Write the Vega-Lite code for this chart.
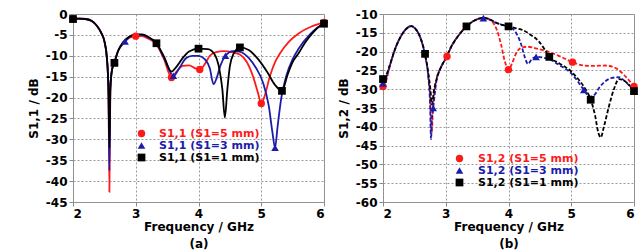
{
  "$schema": "https://vega.github.io/schema/vega-lite/v6.json",
  "padding": {"left": 26, "top": 7, "right": 4, "bottom": 0},
  "spacing": 7,
  "config": {
    "font": "DejaVu Sans",
    "view": {"stroke": "#8a8a8a", "strokeWidth": 1},
    "axis": {
      "labelFont": "DejaVu Sans", "labelFontWeight": "bold", "labelFontSize": 12, "labelColor": "#000",
      "titleFont": "DejaVu Sans", "titleFontWeight": "bold", "titleFontSize": 12, "titleColor": "#000",
      "gridColor": "#999", "gridDash": [2, 2], "gridWidth": 1, "domain": false,
      "tickColor": "#8a8a8a", "tickSize": 4, "labelPadding": 2
    },
    "legend": {"labelFont": "DejaVu Sans", "labelFontWeight": "bold", "labelFontSize": 11}
  },
  "datasets": {
    "a": [
      {"f":2.0,"v":-1.2,"s":"5 mm","m":1},{"f":2.1,"v":-1.1,"s":"5 mm"},{"f":2.2,"v":-1.2,"s":"5 mm"},{"f":2.3,"v":-1.7,"s":"5 mm"},{"f":2.38,"v":-2.8,"s":"5 mm"},{"f":2.45,"v":-4.5,"s":"5 mm"},{"f":2.5,"v":-6.5,"s":"5 mm"},{"f":2.54,"v":-10.5,"s":"5 mm"},{"f":2.565,"v":-18,"s":"5 mm"},{"f":2.58,"v":-42.6,"s":"5 mm"},{"f":2.595,"v":-18,"s":"5 mm"},{"f":2.62,"v":-13.5,"s":"5 mm"},{"f":2.66,"v":-11.5,"s":"5 mm"},{"f":2.72,"v":-8.8,"s":"5 mm"},{"f":2.8,"v":-6.9,"s":"5 mm"},{"f":2.9,"v":-5.7,"s":"5 mm"},{"f":3.0,"v":-5.3,"s":"5 mm","m":1},{"f":3.1,"v":-5.3,"s":"5 mm"},{"f":3.2,"v":-5.9,"s":"5 mm"},{"f":3.33,"v":-7.3,"s":"5 mm"},{"f":3.45,"v":-10.8,"s":"5 mm"},{"f":3.57,"v":-15.2,"s":"5 mm","m":1},{"f":3.65,"v":-13.8,"s":"5 mm"},{"f":3.75,"v":-12.4,"s":"5 mm"},{"f":3.85,"v":-12.3,"s":"5 mm"},{"f":3.95,"v":-13.0,"s":"5 mm"},{"f":4.02,"v":-13.3,"s":"5 mm","m":1},{"f":4.1,"v":-12,"s":"5 mm"},{"f":4.18,"v":-10,"s":"5 mm"},{"f":4.28,"v":-9.1,"s":"5 mm"},{"f":4.4,"v":-8.9,"s":"5 mm"},{"f":4.55,"v":-9.2,"s":"5 mm"},{"f":4.66,"v":-9.7,"s":"5 mm"},{"f":4.77,"v":-11.5,"s":"5 mm"},{"f":4.87,"v":-15,"s":"5 mm"},{"f":4.95,"v":-19,"s":"5 mm"},{"f":5.0,"v":-21.4,"s":"5 mm","m":1},{"f":5.05,"v":-19.8,"s":"5 mm"},{"f":5.14,"v":-14.8,"s":"5 mm"},{"f":5.22,"v":-11.5,"s":"5 mm"},{"f":5.3,"v":-9.4,"s":"5 mm"},{"f":5.45,"v":-6.5,"s":"5 mm"},{"f":5.6,"v":-4.6,"s":"5 mm"},{"f":5.8,"v":-3.0,"s":"5 mm"},{"f":6.0,"v":-2.0,"s":"5 mm","m":1},

      {"f":2.0,"v":-1.2,"s":"3 mm","m":1},{"f":2.1,"v":-1.1,"s":"3 mm"},{"f":2.2,"v":-1.2,"s":"3 mm"},{"f":2.3,"v":-1.7,"s":"3 mm"},{"f":2.38,"v":-2.8,"s":"3 mm"},{"f":2.45,"v":-4.5,"s":"3 mm"},{"f":2.5,"v":-6.5,"s":"3 mm"},{"f":2.54,"v":-10.5,"s":"3 mm"},{"f":2.565,"v":-18,"s":"3 mm"},{"f":2.58,"v":-37.5,"s":"3 mm"},{"f":2.595,"v":-18,"s":"3 mm"},{"f":2.62,"v":-13.5,"s":"3 mm"},{"f":2.66,"v":-11.5,"s":"3 mm"},{"f":2.72,"v":-8.8,"s":"3 mm"},{"f":2.83,"v":-6.6,"s":"3 mm","m":1},{"f":2.9,"v":-5.5,"s":"3 mm"},{"f":3.0,"v":-5.0,"s":"3 mm"},{"f":3.1,"v":-5.0,"s":"3 mm"},{"f":3.2,"v":-5.6,"s":"3 mm"},{"f":3.33,"v":-7.0,"s":"3 mm"},{"f":3.45,"v":-10.5,"s":"3 mm"},{"f":3.6,"v":-14.8,"s":"3 mm","m":1},{"f":3.7,"v":-12.8,"s":"3 mm"},{"f":3.8,"v":-10.6,"s":"3 mm"},{"f":3.9,"v":-10.0,"s":"3 mm"},{"f":4.0,"v":-10.0,"s":"3 mm"},{"f":4.1,"v":-10.8,"s":"3 mm"},{"f":4.18,"v":-13,"s":"3 mm"},{"f":4.24,"v":-16.8,"s":"3 mm"},{"f":4.29,"v":-15.3,"s":"3 mm"},{"f":4.35,"v":-12.3,"s":"3 mm"},{"f":4.43,"v":-10.0,"s":"3 mm","m":1},{"f":4.55,"v":-8.9,"s":"3 mm"},{"f":4.65,"v":-9.0,"s":"3 mm"},{"f":4.8,"v":-10.5,"s":"3 mm"},{"f":4.92,"v":-13,"s":"3 mm"},{"f":5.03,"v":-16.5,"s":"3 mm"},{"f":5.12,"v":-22,"s":"3 mm"},{"f":5.18,"v":-28.5,"s":"3 mm"},{"f":5.22,"v":-32,"s":"3 mm","m":1},{"f":5.26,"v":-27,"s":"3 mm"},{"f":5.32,"v":-20,"s":"3 mm"},{"f":5.4,"v":-14.8,"s":"3 mm"},{"f":5.5,"v":-10.8,"s":"3 mm"},{"f":5.6,"v":-8.2,"s":"3 mm"},{"f":5.78,"v":-4.8,"s":"3 mm"},{"f":5.9,"v":-3.2,"s":"3 mm"},{"f":6.0,"v":-2.4,"s":"3 mm","m":1},

      {"f":2.0,"v":-1.2,"s":"1 mm","m":1},{"f":2.1,"v":-1.1,"s":"1 mm"},{"f":2.2,"v":-1.2,"s":"1 mm"},{"f":2.3,"v":-1.7,"s":"1 mm"},{"f":2.38,"v":-2.8,"s":"1 mm"},{"f":2.45,"v":-4.5,"s":"1 mm"},{"f":2.5,"v":-6.5,"s":"1 mm"},{"f":2.54,"v":-10.5,"s":"1 mm"},{"f":2.565,"v":-18,"s":"1 mm"},{"f":2.58,"v":-32,"s":"1 mm"},{"f":2.595,"v":-18,"s":"1 mm"},{"f":2.62,"v":-13.5,"s":"1 mm"},{"f":2.66,"v":-11.7,"s":"1 mm","m":1},{"f":2.72,"v":-8.8,"s":"1 mm"},{"f":2.8,"v":-6.7,"s":"1 mm"},{"f":2.9,"v":-5.4,"s":"1 mm"},{"f":3.0,"v":-4.9,"s":"1 mm"},{"f":3.1,"v":-4.9,"s":"1 mm"},{"f":3.2,"v":-5.5,"s":"1 mm"},{"f":3.33,"v":-7.0,"s":"1 mm","m":1},{"f":3.45,"v":-10.2,"s":"1 mm"},{"f":3.57,"v":-13.8,"s":"1 mm"},{"f":3.65,"v":-12.6,"s":"1 mm"},{"f":3.75,"v":-10.5,"s":"1 mm"},{"f":3.85,"v":-9.0,"s":"1 mm"},{"f":4.0,"v":-8.3,"s":"1 mm","m":1},{"f":4.15,"v":-8.4,"s":"1 mm"},{"f":4.25,"v":-9.5,"s":"1 mm"},{"f":4.33,"v":-13,"s":"1 mm"},{"f":4.38,"v":-18,"s":"1 mm"},{"f":4.42,"v":-24.8,"s":"1 mm"},{"f":4.46,"v":-18,"s":"1 mm"},{"f":4.5,"v":-12.5,"s":"1 mm"},{"f":4.56,"v":-9.5,"s":"1 mm"},{"f":4.66,"v":-8.0,"s":"1 mm","m":1},{"f":4.8,"v":-8.6,"s":"1 mm"},{"f":4.95,"v":-10.8,"s":"1 mm"},{"f":5.1,"v":-14,"s":"1 mm"},{"f":5.22,"v":-17,"s":"1 mm"},{"f":5.33,"v":-18.4,"s":"1 mm","m":1},{"f":5.42,"v":-14.5,"s":"1 mm"},{"f":5.5,"v":-11.5,"s":"1 mm"},{"f":5.6,"v":-9.3,"s":"1 mm"},{"f":5.7,"v":-6.8,"s":"1 mm"},{"f":5.8,"v":-4.9,"s":"1 mm"},{"f":5.9,"v":-3.3,"s":"1 mm"},{"f":6.0,"v":-2.3,"s":"1 mm","m":1}
    ],
    "b": [
      {"f":2.0,"v":-29.3,"s":"5 mm","m":1},{"f":2.05,"v":-27.8,"s":"5 mm"},{"f":2.1,"v":-24.5,"s":"5 mm"},{"f":2.2,"v":-19,"s":"5 mm"},{"f":2.3,"v":-15.5,"s":"5 mm"},{"f":2.38,"v":-13.8,"s":"5 mm"},{"f":2.45,"v":-13.2,"s":"5 mm"},{"f":2.52,"v":-14,"s":"5 mm"},{"f":2.6,"v":-16.5,"s":"5 mm"},{"f":2.67,"v":-21,"s":"5 mm"},{"f":2.72,"v":-26,"s":"5 mm"},{"f":2.755,"v":-33,"s":"5 mm"},{"f":2.775,"v":-41.5,"s":"5 mm"},{"f":2.8,"v":-34,"s":"5 mm"},{"f":2.85,"v":-27.5,"s":"5 mm"},{"f":2.92,"v":-24.3,"s":"5 mm"},{"f":3.02,"v":-21.3,"s":"5 mm","m":1},{"f":3.1,"v":-18.3,"s":"5 mm"},{"f":3.2,"v":-15.8,"s":"5 mm"},{"f":3.33,"v":-13.3,"s":"5 mm"},{"f":3.45,"v":-11.8,"s":"5 mm"},{"f":3.6,"v":-11.0,"s":"5 mm"},{"f":3.68,"v":-11.3,"s":"5 mm"},{"f":3.75,"v":-12.2,"s":"5 mm"},{"f":3.82,"v":-14.5,"s":"5 mm"},{"f":3.88,"v":-18,"s":"5 mm"},{"f":3.94,"v":-22.5,"s":"5 mm"},{"f":4.0,"v":-24.8,"s":"5 mm","m":1},{"f":4.06,"v":-23,"s":"5 mm"},{"f":4.12,"v":-20.5,"s":"5 mm"},{"f":4.2,"v":-19,"s":"5 mm"},{"f":4.3,"v":-18.7,"s":"5 mm"},{"f":4.45,"v":-19.2,"s":"5 mm"},{"f":4.65,"v":-20.1,"s":"5 mm"},{"f":4.85,"v":-21.5,"s":"5 mm"},{"f":5.02,"v":-22.8,"s":"5 mm","m":1},{"f":5.2,"v":-23.7,"s":"5 mm"},{"f":5.35,"v":-23.8,"s":"5 mm"},{"f":5.55,"v":-23.7,"s":"5 mm"},{"f":5.7,"v":-24.3,"s":"5 mm"},{"f":5.87,"v":-26.7,"s":"5 mm"},{"f":6.0,"v":-29.3,"s":"5 mm","m":1},

      {"f":2.0,"v":-28.5,"s":"3 mm","m":1},{"f":2.05,"v":-27,"s":"3 mm"},{"f":2.1,"v":-24.2,"s":"3 mm"},{"f":2.2,"v":-19,"s":"3 mm"},{"f":2.3,"v":-15.5,"s":"3 mm"},{"f":2.38,"v":-13.8,"s":"3 mm"},{"f":2.45,"v":-13.2,"s":"3 mm"},{"f":2.52,"v":-14,"s":"3 mm"},{"f":2.6,"v":-16.5,"s":"3 mm"},{"f":2.67,"v":-21,"s":"3 mm"},{"f":2.72,"v":-26.5,"s":"3 mm"},{"f":2.75,"v":-34,"s":"3 mm"},{"f":2.765,"v":-43.3,"s":"3 mm"},{"f":2.78,"v":-38,"s":"3 mm"},{"f":2.8,"v":-35,"s":"3 mm","m":1},{"f":2.85,"v":-28,"s":"3 mm"},{"f":2.92,"v":-24.3,"s":"3 mm"},{"f":3.0,"v":-21.8,"s":"3 mm"},{"f":3.1,"v":-18.3,"s":"3 mm"},{"f":3.2,"v":-15.8,"s":"3 mm"},{"f":3.33,"v":-13.3,"s":"3 mm"},{"f":3.45,"v":-11.8,"s":"3 mm"},{"f":3.6,"v":-11.1,"s":"3 mm","m":1},{"f":3.7,"v":-11.5,"s":"3 mm"},{"f":3.8,"v":-12.3,"s":"3 mm"},{"f":3.9,"v":-12.9,"s":"3 mm"},{"f":4.0,"v":-13.3,"s":"3 mm"},{"f":4.1,"v":-14.5,"s":"3 mm"},{"f":4.2,"v":-18,"s":"3 mm"},{"f":4.26,"v":-21.5,"s":"3 mm"},{"f":4.31,"v":-23.3,"s":"3 mm"},{"f":4.37,"v":-22,"s":"3 mm"},{"f":4.44,"v":-21.4,"s":"3 mm","m":1},{"f":4.55,"v":-21.6,"s":"3 mm"},{"f":4.65,"v":-22.0,"s":"3 mm"},{"f":4.8,"v":-23.5,"s":"3 mm"},{"f":5.0,"v":-25.8,"s":"3 mm"},{"f":5.1,"v":-27.8,"s":"3 mm"},{"f":5.2,"v":-30.2,"s":"3 mm","m":1},{"f":5.3,"v":-32,"s":"3 mm"},{"f":5.37,"v":-31.5,"s":"3 mm"},{"f":5.45,"v":-29.5,"s":"3 mm"},{"f":5.55,"v":-27.8,"s":"3 mm"},{"f":5.65,"v":-27,"s":"3 mm"},{"f":5.76,"v":-26.8,"s":"3 mm"},{"f":5.85,"v":-27.8,"s":"3 mm"},{"f":6.0,"v":-30.6,"s":"3 mm","m":1},

      {"f":2.0,"v":-27.3,"s":"1 mm","m":1},{"f":2.05,"v":-26.3,"s":"1 mm"},{"f":2.1,"v":-24,"s":"1 mm"},{"f":2.2,"v":-19,"s":"1 mm"},{"f":2.3,"v":-15.5,"s":"1 mm"},{"f":2.38,"v":-13.8,"s":"1 mm"},{"f":2.45,"v":-13.2,"s":"1 mm"},{"f":2.52,"v":-14,"s":"1 mm"},{"f":2.6,"v":-16.5,"s":"1 mm"},{"f":2.67,"v":-20.6,"s":"1 mm","m":1},{"f":2.72,"v":-25.5,"s":"1 mm"},{"f":2.755,"v":-30,"s":"1 mm"},{"f":2.78,"v":-34,"s":"1 mm"},{"f":2.81,"v":-30.5,"s":"1 mm"},{"f":2.86,"v":-27,"s":"1 mm"},{"f":2.92,"v":-24.3,"s":"1 mm"},{"f":3.0,"v":-21.8,"s":"1 mm"},{"f":3.1,"v":-18.3,"s":"1 mm"},{"f":3.2,"v":-15.8,"s":"1 mm"},{"f":3.33,"v":-13.3,"s":"1 mm","m":1},{"f":3.45,"v":-11.8,"s":"1 mm"},{"f":3.6,"v":-11.0,"s":"1 mm"},{"f":3.7,"v":-11.4,"s":"1 mm"},{"f":3.8,"v":-12.3,"s":"1 mm"},{"f":3.9,"v":-12.9,"s":"1 mm"},{"f":4.0,"v":-13.3,"s":"1 mm","m":1},{"f":4.12,"v":-13.8,"s":"1 mm"},{"f":4.23,"v":-14.3,"s":"1 mm"},{"f":4.35,"v":-15.5,"s":"1 mm"},{"f":4.49,"v":-17.4,"s":"1 mm"},{"f":4.58,"v":-19.5,"s":"1 mm"},{"f":4.65,"v":-21.4,"s":"1 mm","m":1},{"f":4.8,"v":-23.0,"s":"1 mm"},{"f":5.0,"v":-25.3,"s":"1 mm"},{"f":5.12,"v":-27.5,"s":"1 mm"},{"f":5.22,"v":-29.8,"s":"1 mm"},{"f":5.31,"v":-32.8,"s":"1 mm","m":1},{"f":5.38,"v":-37,"s":"1 mm"},{"f":5.43,"v":-41.5,"s":"1 mm"},{"f":5.47,"v":-42.8,"s":"1 mm"},{"f":5.52,"v":-40,"s":"1 mm"},{"f":5.6,"v":-34.6,"s":"1 mm"},{"f":5.68,"v":-30,"s":"1 mm"},{"f":5.76,"v":-27.3,"s":"1 mm"},{"f":5.85,"v":-27.8,"s":"1 mm"},{"f":6.0,"v":-30.5,"s":"1 mm","m":1}
    ]
  },
  "hconcat": [
    {
      "width": 251, "height": 188,
      "data": {"name": "a"},
      "encoding": {
        "x": {"field": "f", "type": "quantitative", "scale": {"domain": [2, 6], "nice": false, "zero": false},
              "axis": {"values": [2, 3, 4, 5, 6], "title": ["Frequency / GHz", "(a)"], "titleLineHeight": 17, "titlePadding": 2}},
        "y": {"field": "v", "type": "quantitative", "scale": {"domain": [-45, 0], "nice": false, "zero": false},
              "axis": {"values": [0, -5, -10, -15, -20, -25, -30, -35, -40, -45], "labelExpr": "toString(datum.value)", "title": "S1,1 / dB", "titlePadding": 5}},
        "color": {"field": "s", "type": "nominal",
                  "scale": {"domain": ["5 mm", "3 mm", "1 mm"], "range": ["#ff1a1a", "#1c1cab", "#000000"]},
                  "legend": {"orient": "none", "legendX": 63, "legendY": 114, "title": null, "symbolSize": 60, "labelOffset": 12, "rowPadding": 0,
                             "labelExpr": "'S1,1 (S1=' + datum.label + ')'",
                             "encode": {
                               "labels": {"update": {"fill": {"signal": "['#ff1a1a','#1c1cab','#000000'][datum.index]"}}},
                               "symbols": {"update": {
                                 "fill": {"signal": "['#ff1a1a','#1c1cab','#000000'][datum.index]"},
                                 "strokeWidth": {"value": 0},
                                 "shape": {"signal": "['M-3.1,-0.26H-1V0.26H-3.1Z M1,-0.26H3.1V0.26H1Z M1.03,0A1.03,1.03 0 1,1 -1.03,0A1.03,1.03 0 1,1 1.03,0Z','M-3.1,-0.26H-0.64V0.26H-3.1Z M0.64,-0.26H3.1V0.26H0.64Z M0,-1.1L1.1,0.8L-1.1,0.8Z','M-3.1,-0.26H-1.05V0.26H-3.1Z M1.05,-0.26H3.1V0.26H1.05Z M-1.05,-1.05H1.05V1.05H-1.05Z'][datum.index]"}}}
                             }}}
      },
      "layer": [
        {"mark": {"type": "line", "interpolate": "monotone", "strokeWidth": 1.8}},
        {"transform": [{"filter": "datum.m == 1"}],
         "mark": {"type": "point", "filled": true, "opacity": 1},
         "encoding": {
           "shape": {"field": "s", "type": "nominal", "scale": {"domain": ["5 mm", "3 mm", "1 mm"], "range": ["circle", "triangle-up", "square"]}, "legend": null},
           "size": {"field": "s", "type": "nominal", "scale": {"domain": ["5 mm", "3 mm", "1 mm"], "range": [55, 60, 70]}, "legend": null}
         }}
      ]
    },
    {
      "width": 251, "height": 188,
      "data": {"name": "b"},
      "encoding": {
        "x": {"field": "f", "type": "quantitative", "scale": {"domain": [2, 6], "nice": false, "zero": false},
              "axis": {"values": [2, 3, 4, 5, 6], "title": ["Frequency / GHz", "(b)"], "titleLineHeight": 17, "titlePadding": 2}},
        "y": {"field": "v", "type": "quantitative", "scale": {"domain": [-60, -10], "nice": false, "zero": false},
              "axis": {"values": [-10, -15, -20, -25, -30, -35, -40, -45, -50, -55, -60], "labelExpr": "toString(datum.value)", "title": "S1,2 / dB", "titlePadding": 5}},
        "color": {"field": "s", "type": "nominal",
                  "scale": {"domain": ["5 mm", "3 mm", "1 mm"], "range": ["#ff1a1a", "#1c1cab", "#000000"]},
                  "legend": {"orient": "none", "legendX": 71, "legendY": 139, "title": null, "symbolSize": 60, "labelOffset": 13, "rowPadding": 0,
                             "labelExpr": "'S1,2 (S1=' + datum.label + ')'",
                             "encode": {
                               "labels": {"update": {"fill": {"signal": "['#ff1a1a','#1c1cab','#000000'][datum.index]"}}},
                               "symbols": {"update": {
                                 "fill": {"signal": "['#ff1a1a','#1c1cab','#000000'][datum.index]"},
                                 "strokeWidth": {"value": 0},
                                 "shape": {"signal": "['M-2.9,-0.26H-2.1V0.26H-2.9Z M1,-0.26H2.4V0.26H1Z M1.03,0A1.03,1.03 0 1,1 -1.03,0A1.03,1.03 0 1,1 1.03,0Z','M-2.9,-0.26H-2.1V0.26H-2.9Z M0.64,-0.26H2.4V0.26H0.64Z M0,-1.1L1.1,0.8L-1.1,0.8Z','M-2.9,-0.26H-2.1V0.26H-2.9Z M1.05,-0.26H2.4V0.26H1.05Z M-1.05,-1.05H1.05V1.05H-1.05Z'][datum.index]"}}}
                             }}}
      },
      "layer": [
        {"mark": {"type": "line", "interpolate": "monotone", "strokeWidth": 1.8, "strokeDash": [4, 2]}},
        {"transform": [{"filter": "datum.m == 1"}],
         "mark": {"type": "point", "filled": true, "opacity": 1},
         "encoding": {
           "shape": {"field": "s", "type": "nominal", "scale": {"domain": ["5 mm", "3 mm", "1 mm"], "range": ["circle", "triangle-up", "square"]}, "legend": null},
           "size": {"field": "s", "type": "nominal", "scale": {"domain": ["5 mm", "3 mm", "1 mm"], "range": [55, 60, 70]}, "legend": null}
         }}
      ]
    }
  ],
  "resolve": {"scale": {"x": "independent", "y": "independent", "color": "independent", "shape": "independent", "size": "independent"}}
}
